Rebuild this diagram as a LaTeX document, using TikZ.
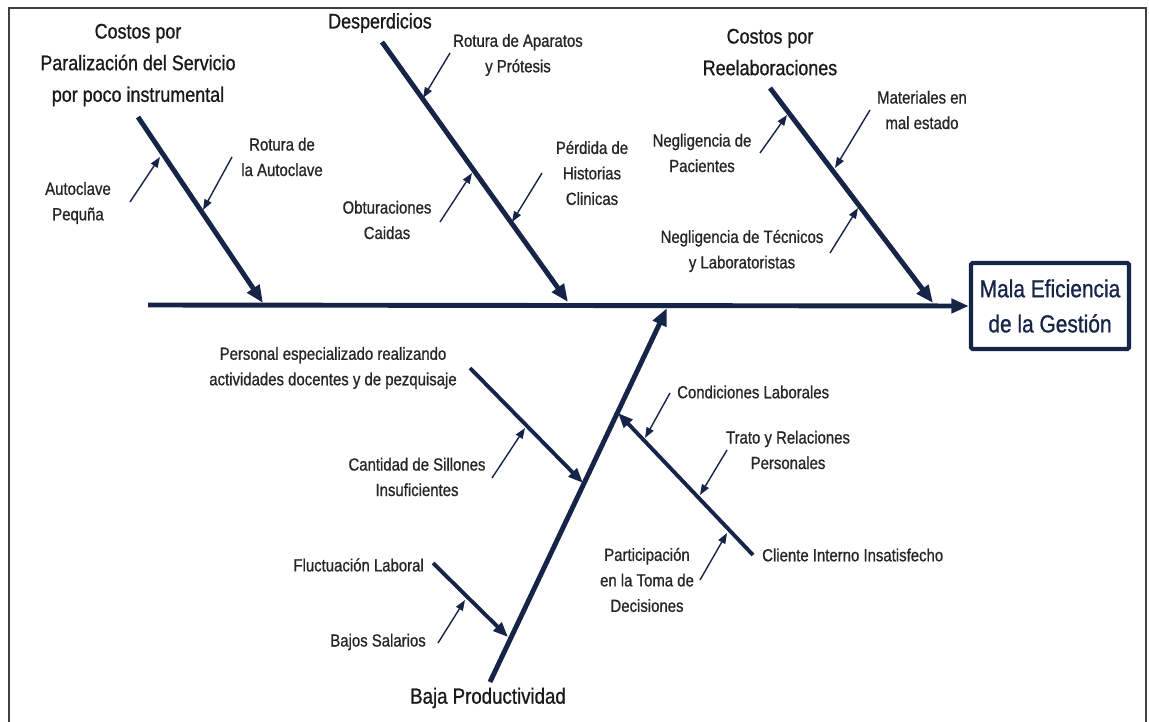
\documentclass[tikz,border=0pt]{standalone}
\usepackage{fontspec}
\setmainfont{Liberation Sans}[FakeStretch=0.85, FakeBold=0.9]
\usetikzlibrary{arrows.meta}

\definecolor{navy}{RGB}{22,36,72}

\tikzset{
  bone/.style={line width=2.8pt, draw=navy, -{Triangle[length=10pt, width=8pt]}},
  subbone/.style={line width=2.2pt, draw=navy, -{Triangle[length=8.5pt, width=6.5pt]}},
  twig/.style={line width=0.8pt, draw=navy, -{Triangle[length=6pt, width=4.4pt]}},
  head/.style={font=\fontsize{12}{18}\selectfont, align=center, text=black!90},
  cause/.style={font=\fontsize{10}{14.5}\selectfont, align=center, text=black!85},
}

\begin{document}
\begin{tikzpicture}[x=0.02cm, y=-0.02cm]
    \useasboundingbox (0, 0) rectangle (1149, 722);
    \draw [line width=1.3pt, black!75] (9, 8) rectangle (1146, 740);

    \node [draw=navy, line width=2.4pt, rounded corners=1pt, minimum width=90pt, minimum height=49pt,
           font=\fontsize{14}{20}\selectfont, align=center, text=navy] (efecto) at (1050, 306)
          {Mala Eficiencia\\de la Gestión};

    \coordinate (cola) at (148, 305);
    \draw [bone] (cola) -- (efecto.west);

    \node [head] (hParal) at (138, 65) {Costos por\\Paralización del Servicio\\por poco instrumental};
    \node [head] (hDesp) at (380, 23) {Desperdicios};
    \node [head, text depth=0pt] (hReel) at (770, 52) {Costos por\\Reelaboraciones};
    \node [head, font=\fontsize{12.5}{18}\selectfont] (hBaja) at (488, 698) {Baja Productividad};

    \coordinate (p1) at (138, 117);  \coordinate (q1) at (263, 303);
    \coordinate (p2) at (382, 42);   \coordinate (q2) at (568, 302);
    \coordinate (p3) at (770, 88);   \coordinate (q3) at (933, 303);
    \coordinate (p4) at (490, 682);  \coordinate (q4) at (667, 308);
    \draw [bone] (p1) -- (q1);
    \draw [bone] (p2) -- (q2);
    \draw [bone] (p3) -- (q3);
    \draw [bone] (p4) -- (q4);

    \coordinate (p5) at (470, 368);  \coordinate (q5) at (583, 483);
    \coordinate (p6) at (433, 563);  \coordinate (q6) at (508, 637);
    \coordinate (p7) at (753, 555);  \coordinate (q7) at (618, 413);
    \draw [subbone] (p5) -- (q5);
    \draw [subbone] (p6) -- (q6);
    \draw [subbone] (p7) -- (q7);

    \node [cause] (cAutoPeq) at (78, 203) {Autoclave\\Pequña};
    \node [cause] (cRotAuto) at (282, 157) {Rotura de\\la Autoclave};
    \node [cause] (cRotApar) at (518, 55) {Rotura de Aparatos\\y Prótesis};
    \node [cause] (cObtur) at (387, 220) {Obturaciones\\Caidas};
    \node [cause] (cPerd) at (592, 173) {Pérdida de\\Historias\\Clinicas};
    \node [cause] (cNegPac) at (702, 153) {Negligencia de\\Pacientes};
    \node [cause] (cMater) at (922, 110) {Materiales en\\mal estado};
    \node [cause] (cNegTec) at (742, 251) {Negligencia de Técnicos\\y Laboratoristas};
    \node [cause] (cPers) at (333, 368) {Personal especializado realizando\\actividades docentes y de pezquisaje};
    \node [cause] (cSill) at (417, 477) {Cantidad de Sillones\\Insuficientes};
    \node [cause, anchor=east] (cFluct) at (430, 565) {Fluctuación Laboral};
    \node [cause, anchor=east] (cBajos) at (432, 642) {Bajos Salarios};
    \node [cause, anchor=west] (cClie) at (756, 555) {Cliente Interno Insatisfecho};
    \node [cause, anchor=west] (cCond) at (671, 392) {Condiciones Laborales};
    \node [cause] (cTrato) at (788, 450) {Trato y Relaciones\\Personales};
    \node [cause] (cPart) at (647, 580) {Participación\\en la Toma de\\Decisiones};

    \coordinate (a1) at (130, 202);  \coordinate (t1) at (160, 157);
    \coordinate (a2) at (232, 157);  \coordinate (t2) at (203, 210);
    \coordinate (a3) at (450, 53);   \coordinate (t3) at (423, 98);
    \coordinate (a4) at (440, 222);  \coordinate (t4) at (472, 173);
    \coordinate (a5) at (542, 173);  \coordinate (t5) at (512, 222);
    \coordinate (a6) at (760, 153);  \coordinate (t6) at (787, 115);
    \coordinate (a7) at (870, 110);  \coordinate (t7) at (835, 168);
    \coordinate (a8) at (830, 253);  \coordinate (t8) at (858, 208);
    \coordinate (a9) at (492, 478);  \coordinate (t9) at (525, 428);
    \coordinate (a10) at (438, 643); \coordinate (t10) at (465, 600);
    \coordinate (a11) at (670, 393); \coordinate (t11) at (645, 438);
    \coordinate (a12) at (727, 450); \coordinate (t12) at (700, 495);
    \coordinate (a13) at (700, 580); \coordinate (t13) at (727, 533);
    \foreach \i in {1,...,13}
        \draw [twig] (a\i) -- (t\i);
\end{tikzpicture}
\end{document}
